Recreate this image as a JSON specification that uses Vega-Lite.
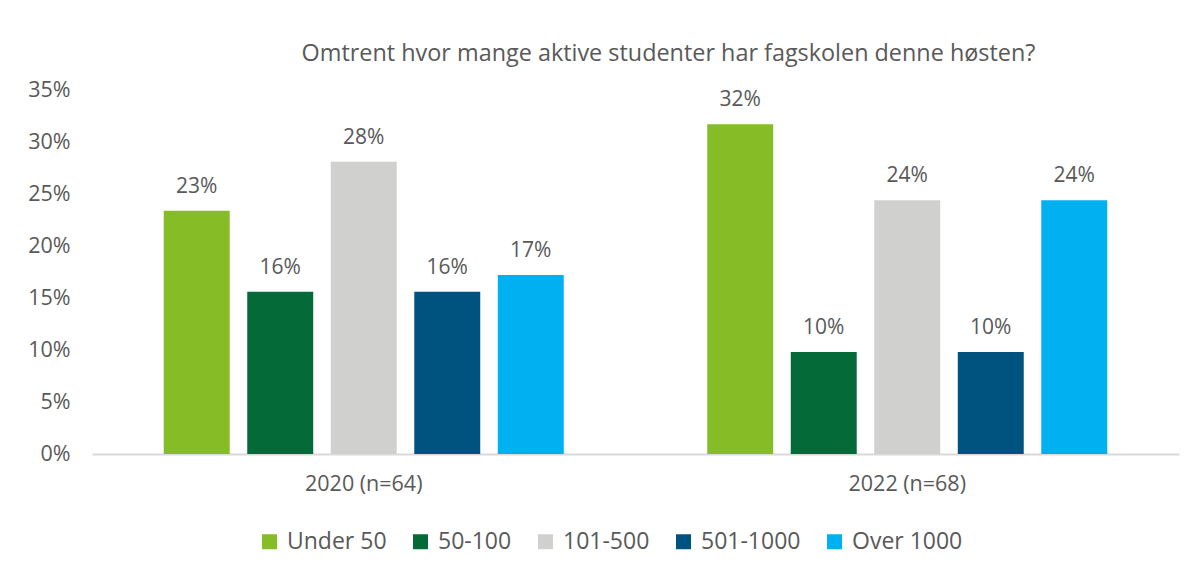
{
  "$schema": "https://vega.github.io/schema/vega-lite/v6.json",
  "width": 1087,
  "height": 364,
  "autosize": {"type": "none"},
  "padding": {"left": 92, "top": 90, "right": 15, "bottom": 120},
  "background": "white",
  "title": {
    "text": "Omtrent hvor mange aktive studenter har fagskolen denne høsten?",
    "font": "Open Sans",
    "fontSize": 23.4,
    "fontWeight": "normal",
    "color": "#595959",
    "anchor": "middle",
    "frame": "group",
    "dx": 33,
    "baseline": "alphabetic",
    "offset": -5
  },
  "data": {
    "values": [
      {"year": "2020 (n=64)", "size": "Under 50", "share": 0.234},
      {"year": "2020 (n=64)", "size": "50-100", "share": 0.156},
      {"year": "2020 (n=64)", "size": "101-500", "share": 0.281},
      {"year": "2020 (n=64)", "size": "501-1000", "share": 0.156},
      {"year": "2020 (n=64)", "size": "Over 1000", "share": 0.172},
      {"year": "2022 (n=68)", "size": "Under 50", "share": 0.317},
      {"year": "2022 (n=68)", "size": "50-100", "share": 0.098},
      {"year": "2022 (n=68)", "size": "101-500", "share": 0.244},
      {"year": "2022 (n=68)", "size": "501-1000", "share": 0.098},
      {"year": "2022 (n=68)", "size": "Over 1000", "share": 0.244}
    ]
  },
  "encoding": {
    "x": {
      "field": "year",
      "type": "nominal",
      "sort": ["2020 (n=64)", "2022 (n=68)"],
      "scale": {"paddingInner": 0.264, "paddingOuter": 0.132},
      "axis": {
        "title": null,
        "labelAngle": 0,
        "ticks": false,
        "domainColor": "#d9d9d9",
        "domainWidth": 2,
        "labelFont": "Open Sans",
        "labelFontSize": 21.5,
        "labelColor": "#595959",
        "labelPadding": 19
      }
    },
    "xOffset": {
      "field": "size",
      "type": "nominal",
      "sort": ["Under 50", "50-100", "101-500", "501-1000", "Over 1000"],
      "scale": {"paddingInner": 0.21, "paddingOuter": 0}
    },
    "y": {
      "field": "share",
      "type": "quantitative",
      "scale": {"domain": [0, 0.35]},
      "axis": {
        "title": null,
        "values": [0, 0.05, 0.1, 0.15, 0.2, 0.25, 0.3, 0.35],
        "format": ".0%",
        "domain": false,
        "ticks": false,
        "grid": false,
        "labelFont": "Open Sans",
        "labelFontSize": 21.5,
        "labelColor": "#595959",
        "labelPadding": 22
      }
    }
  },
  "layer": [
    {
      "mark": {"type": "bar"},
      "encoding": {
        "color": {
          "field": "size",
          "type": "nominal",
          "sort": ["Under 50", "50-100", "101-500", "501-1000", "Over 1000"],
          "scale": {
            "domain": ["Under 50", "50-100", "101-500", "501-1000", "Over 1000"],
            "range": ["#86BC25", "#046A38", "#D0D0CE", "#00527F", "#00B0F0"]
          },
          "legend": {
            "title": null,
            "orient": "none",
            "legendX": 166,
            "legendY": 440,
            "direction": "horizontal",
            "symbolType": "square",
            "symbolSize": 225,
            "symbolStrokeWidth": 0,
            "labelFont": "Open Sans",
            "labelFontSize": 23,
            "labelColor": "#595959",
            "labelOffset": 6,
            "columnPadding": 22
          }
        }
      }
    },
    {
      "mark": {
        "type": "text",
        "dy": -18,
        "baseline": "alphabetic",
        "font": "Open Sans",
        "fontSize": 21,
        "color": "#595959"
      },
      "encoding": {
        "text": {"field": "share", "type": "quantitative", "format": ".0%"}
      }
    }
  ],
  "config": {"view": {"stroke": null}}
}
